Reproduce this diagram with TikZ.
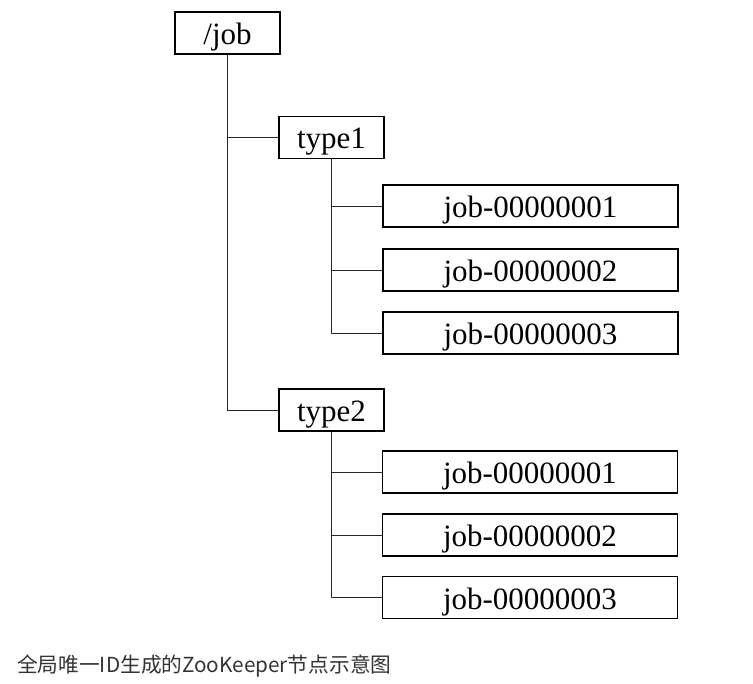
\documentclass[tikz,border=0pt]{standalone}
\usepackage{fontspec}
\setmainfont{Liberation Serif}
\newfontfamily\cjk{Noto Sans CJK SC}
\tikzset{
  znode/.style={draw,line width=1.1pt,inner sep=0pt,minimum height=42pt,minimum width=105pt,text height=23pt,text depth=0pt,font=\fontsize{31}{31}\selectfont},
  jobnode/.style={znode,minimum width=295pt},
  branch/.style={line width=0.9pt,draw=black!85}
}
\begin{document}
\begin{tikzpicture}[x=1pt,y=-1pt]
\useasboundingbox (0,0) rectangle (753,684);
% Coordinates
\coordinate (root-pos) at (227.5,33);
\coordinate (type1-pos) at (331.5,137.5);
\coordinate (type2-pos) at (331.5,410);
% Nodes
\node[znode] (root) at (root-pos) {/job};
\node[znode] (type1) at (type1-pos) {type1};
\node[jobnode] (job11) at (530.5,206) {job-00000001};
\node[jobnode] (job12) at (530.5,270) {job-00000002};
\node[jobnode] (job13) at (530.5,333) {job-00000003};
\node[znode] (type2) at (type2-pos) {type2};
\node[jobnode] (job21) at (530,472) {job-00000001};
\node[jobnode] (job22) at (530,535) {job-00000002};
\node[jobnode] (job23) at (530,597.5) {job-00000003};
% Tree lines
\draw[branch] (root.south) |- (type2.west);
\draw[branch] (root.south |- type1.west) -- (type1.west);
\draw[branch] (type1.south) |- (job13.west);
\draw[branch] (type1.south |- job11.west) -- (job11.west);
\draw[branch] (type1.south |- job12.west) -- (job12.west);
\draw[branch] (type2.south) |- (job23.west);
\draw[branch] (type2.south |- job21.west) -- (job21.west);
\draw[branch] (type2.south |- job22.west) -- (job22.west);
% Caption
\node[anchor=west,inner sep=0pt,text=black!80,font=\cjk\fontsize{20.7}{20.7}\selectfont] (caption) at (17,666) {全局唯一ID生成的ZooKeeper节点示意图};
\end{tikzpicture}
\end{document}
